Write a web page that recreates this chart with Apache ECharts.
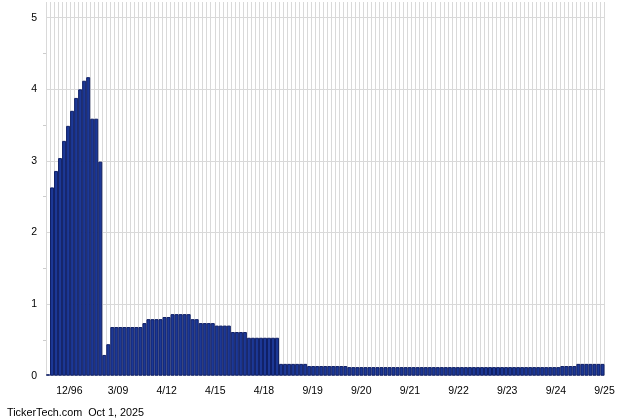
<!DOCTYPE html>
<html lang="en">
<head>
    <meta charset="UTF-8"/>
    <script src="https://cdn.jsdelivr.net/npm/echarts@6/dist/echarts.min.js"></script>
    <title>dividend_history</title>
    <style>
        html, body { margin: 0; padding: 0; background: #fff; }
    </style>
</head>
<body>

<div id="main" style="width: 640px;height:420px;"></div>
<script type="text/javascript">
    // dividend amounts, one bar per payment, oldest first
    var amounts = [
        0.02,
        2.63, 2.86, 3.04, 3.28, 3.49, 3.70, 3.88, 4.00, 4.12, 4.17, 3.59, 3.59, 2.99,
        0.29, 0.44,
        0.68, 0.68, 0.68, 0.68, 0.68, 0.68, 0.68, 0.68,
        0.735,
        0.79, 0.79, 0.79, 0.79,
        0.82, 0.82,
        0.86, 0.86, 0.86, 0.86, 0.86,
        0.79, 0.79,
        0.735, 0.735, 0.735, 0.735,
        0.70, 0.70, 0.70, 0.70,
        0.61, 0.61, 0.61, 0.61,
        0.53, 0.53, 0.53, 0.53, 0.53, 0.53, 0.53, 0.53,
        0.165, 0.165, 0.165, 0.165, 0.165, 0.165, 0.165,
        0.135, 0.135, 0.135, 0.135, 0.135, 0.135, 0.135, 0.135, 0.135, 0.135,
        0.12, 0.12, 0.12, 0.12, 0.12, 0.12, 0.12, 0.12, 0.12, 0.12,
        0.12, 0.12, 0.12, 0.12, 0.12, 0.12, 0.12, 0.12, 0.12, 0.12,
        0.12, 0.12, 0.12, 0.12, 0.12, 0.12, 0.12, 0.12, 0.12, 0.12,
        0.12, 0.12, 0.12, 0.12, 0.12, 0.12, 0.12, 0.12, 0.12, 0.12,
        0.12, 0.12, 0.12, 0.12, 0.12, 0.12, 0.12, 0.12, 0.12, 0.12,
        0.12, 0.12, 0.12,
        0.135, 0.135, 0.135, 0.135,
        0.165, 0.165, 0.165, 0.165, 0.165, 0.165, 0.165
    ];

    // date labels shown under the axis, evenly spaced
    var tickLabels = ['12/96', '3/09', '4/12', '4/15', '4/18', '9/19',
        '9/20', '9/21', '9/22', '9/23', '9/24', '9/25'];

    var footer = 'TickerTech.com  Oct 1, 2025';

    var categories = amounts.map(function (v, i) { return String(i); });

    // fine slots for the label axis: first label at slot 12, then every 25
    var labelSlots = [];
    for (var s = 0; s < 288; s++) {
        labelSlots.push(String(s));
    }

    var myChart = echarts.init(document.getElementById('main'));

    var option = {
        animation: false,
        backgroundColor: '#ffffff',
        textStyle: { fontFamily: 'Liberation Sans, Arial, sans-serif' },
        grid: { left: 46, right: 35.5, top: 2, bottom: 44.3, containLabel: false },
        xAxis: [
            {
                type: 'category',
                data: categories,
                boundaryGap: true,
                axisLine: { show: false },
                axisTick: { show: false },
                axisLabel: { show: false },
                splitLine: { show: true, interval: 0, lineStyle: { color: '#d9d9d9', width: 1 } }
            },
            {
                type: 'category',
                data: labelSlots,
                boundaryGap: false,
                position: 'bottom',
                axisLine: { show: false },
                axisTick: { show: false },
                splitLine: { show: false },
                axisLabel: {
                    margin: 10,
                    fontSize: 10.5,
                    color: '#000',
                    interval: function (i) { return i >= 12 && (i - 12) % 25 === 0; },
                    formatter: function (v, i) { return tickLabels[(i - 12) / 25] || ''; }
                }
            }
        ],
        yAxis: {
            type: 'value',
            min: 0,
            max: 5.22,
            interval: 1,
            axisLine: { show: false },
            axisTick: { show: false },
            minorTick: { show: true, splitNumber: 2, length: 3, lineStyle: { color: '#cccccc' } },
            axisLabel: {
                margin: 9,
                fontSize: 10.5,
                color: '#000',
                showMaxLabel: false,
                formatter: function (v) { return v > 5 ? '' : v; }
            },
            splitLine: { show: true, showMaxLine: false, lineStyle: { color: '#d9d9d9', width: 1 } }
        },
        series: [
            {
                type: 'bar',
                xAxisIndex: 0,
                data: amounts,
                barCategoryGap: '0%',
                itemStyle: {
                    color: '#1c3896',
                    borderColor: '#0f1f66',
                    borderWidth: 1
                }
            }
        ],
        graphic: [
            {
                type: 'text',
                left: 7,
                top: 408,
                style: {
                    text: footer,
                    font: '10.8px "Liberation Sans", Arial, sans-serif',
                    fill: '#000'
                }
            }
        ]
    };

    myChart.setOption(option);
</script>
</body>
</html>
